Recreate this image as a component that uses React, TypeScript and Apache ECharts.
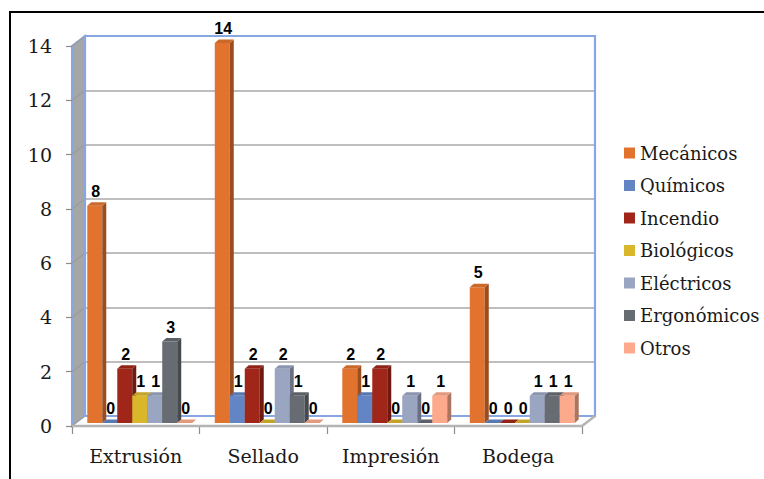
import React, { useEffect, useRef } from "react";
import * as echarts from "echarts";

const categories = ["Extrusión", "Sellado", "Impresión", "Bodega"];
const seriesNames = ["Mecánicos", "Químicos", "Incendio", "Biológicos", "Eléctricos", "Ergonómicos", "Otros"];
const mecanicos = [8, 14, 2, 5];
const quimicos = [0, 1, 1, 0];
const incendio = [2, 2, 2, 0];
const biologicos = [1, 0, 0, 0];
const electricos = [1, 2, 1, 1];
const ergonomicos = [3, 1, 0, 1];
const otros = [0, 0, 1, 1];
const seriesValues = [mecanicos, quimicos, incendio, biologicos, electricos, ergonomicos, otros];
const seriesColors = ["#e2732f", "#6385c4", "#a0261a", "#dab62a", "#9aa5c1", "#676b72", "#fcaa8b"];
const yTicks = [0, 2, 4, 6, 8, 10, 12, 14];
const Y_MAX = 14;

// layout (pixels)
const FX = 72, FTOP = 46, FBOT = 426, FW = 510; // front plane
const DX = 13, DY = -10; // depth of the box
const BLUE = "#88a7e2";
const SERIF = "'DejaVu Serif', 'Liberation Serif', serif";

function shade(hex: string, f: number) {
  const n = parseInt(hex.slice(1), 16);
  const r = Math.min(255, Math.round(((n >> 16) & 255) * f));
  const g = Math.min(255, Math.round(((n >> 8) & 255) * f));
  const b = Math.min(255, Math.round((n & 255) * f));
  return `rgb(${r},${g},${b})`;
}

export default function App() {
  const ref = useRef<HTMLDivElement>(null);
  useEffect(() => {
    if (!ref.current) return;
    const chart = echarts.init(ref.current, null, { renderer: "svg" });
    const nS = seriesNames.length;
    const series = seriesNames.map((name, si) => ({
      name,
      type: "custom",
      xAxisIndex: 0,
      yAxisIndex: 0,
      itemStyle: { color: seriesColors[si] },
      z: 2,
      data: categories.map((c, ci) => [ci, seriesValues[si][ci]]),
      encode: { x: 0, y: 1 },
      renderItem: (params: any, api: any) => {
        const ci = api.value(0);
        const v = api.value(1);
        const base = api.coord([ci, 0]);
        const top = api.coord([ci, v]);
        const band = api.size([1, 0])[0];
        const bw = band * 0.1176;
        const ox = 4, oy = -3; // bar plane offset
        const ddx = 4, ddy = -3.5; // bar depth
        const x0 = base[0] - (bw * nS) / 2 + si * bw + ox;
        const yb = base[1] + oy;
        const yt = top[1] + oy;
        const col = seriesColors[si];
        const children: any[] = [];
        if (yb - yt > 0.1) {
          children.push({
            type: "rect",
            shape: { x: x0, y: yt, width: bw, height: yb - yt },
            style: { fill: col },
          });
          children.push({
            type: "polygon",
            shape: {
              points: [
                [x0 + bw, yt],
                [x0 + bw + ddx, yt + ddy],
                [x0 + bw + ddx, yb + ddy],
                [x0 + bw, yb],
              ],
            },
            style: { fill: shade(col, 0.68) },
          });
        }
        children.push({
          type: "polygon",
          shape: {
            points: [
              [x0, yt],
              [x0 + ddx, yt + ddy],
              [x0 + bw + ddx, yt + ddy],
              [x0 + bw, yt],
            ],
          },
          style: { fill: shade(col, 0.9) },
        });
        children.push({
          type: "text",
          style: {
            text: String(v),
            x: x0 + bw / 2 + 1,
            y: yt + ddy - 3,
            align: "center",
            verticalAlign: "bottom",
            fill: "#000",
            font: "bold 16px 'Liberation Sans', Arial, sans-serif",
          },
        });
        return { type: "group", children };
      },
    }));

    const unit = (FBOT - FTOP) / Y_MAX;
    const slantLines = yTicks.map((t) => ({
      type: "line",
      z: 0,
      shape: { x1: FX, y1: FBOT - t * unit, x2: FX + DX, y2: FBOT - t * unit + DY },
      style: { stroke: "#9a9a9a", lineWidth: 1.2 },
    }));

    const option: any = {
      animation: false,
      color: seriesColors,
      grid: [
        { left: FX, top: FTOP, width: FW, height: FBOT - FTOP },
        { left: FX + DX, top: FTOP + DY, width: FW, height: FBOT - FTOP },
      ],
      xAxis: [
        {
          type: "category",
          gridIndex: 0,
          data: categories,
          axisLine: { show: false },
          axisTick: { show: true, length: 8, lineStyle: { color: "#8c8c8c", width: 1.2 } },
          axisLabel: { margin: 20, fontFamily: SERIF, fontSize: 19, color: "#1a1a1a" },
          splitLine: { show: false },
        },
        { type: "category", gridIndex: 1, data: categories, show: false },
      ],
      yAxis: [
        {
          type: "value",
          gridIndex: 0,
          min: 0,
          max: Y_MAX,
          interval: 2,
          axisLine: { show: false },
          axisTick: { show: true, length: 6, lineStyle: { color: "#8c8c8c", width: 1.2 } },
          axisLabel: { margin: 20, fontFamily: SERIF, fontSize: 19, color: "#1a1a1a" },
          splitLine: { show: false },
        },
        {
          type: "value",
          gridIndex: 1,
          min: 0,
          max: Y_MAX,
          interval: 2,
          axisLine: { show: false },
          axisTick: { show: false },
          axisLabel: { show: false },
          splitLine: { show: true, lineStyle: { color: "#a8a8a8", width: 1.6 } },
        },
      ],
      legend: {
        orient: "vertical",
        left: 619,
        top: 138,
        itemWidth: 11,
        itemHeight: 11,
        itemGap: 12.5,
        icon: "rect",
        data: seriesNames,
        textStyle: { fontFamily: SERIF, fontSize: 18, lineHeight: 20, color: "#1a1a1a" },
      },
      graphic: {
        elements: [
          // back wall fill
          {
            type: "rect",
            z: -2,
            shape: { x: FX + DX, y: FTOP + DY, width: FW, height: FBOT - FTOP },
            style: { fill: "#fff" },
          },
          // left wall
          {
            type: "polygon",
            z: -1,
            shape: {
              points: [
                [FX, FTOP],
                [FX + DX, FTOP + DY],
                [FX + DX, FBOT + DY],
                [FX, FBOT],
              ],
            },
            style: { fill: "#a6a6a6", stroke: BLUE, lineWidth: 2 },
          },
          // floor
          {
            type: "polygon",
            z: -1,
            shape: {
              points: [
                [FX, FBOT],
                [FX + DX, FBOT + DY],
                [FX + DX + FW, FBOT + DY],
                [FX + FW, FBOT],
              ],
            },
            style: { fill: "#fff" },
          },
          ...slantLines,
          // back wall border
          {
            type: "rect",
            z: 1,
            shape: { x: FX + DX, y: FTOP + DY, width: FW, height: FBOT - FTOP },
            style: { fill: "none", stroke: BLUE, lineWidth: 2.2 },
          },
          // floor front edges
          {
            type: "polyline",
            z: 1,
            shape: {
              points: [
                [FX, FBOT],
                [FX + FW, FBOT],
                [FX + FW + DX, FBOT + DY],
              ],
            },
            style: { stroke: "#b4b4b4", lineWidth: 2.5, fill: "none" },
          },
          // outer frame
          {
            type: "rect",
            z: 10,
            shape: { x: 10, y: 12, width: 800, height: 520 },
            style: { fill: "none", stroke: "#000", lineWidth: 2 },
          },
        ],
      },
      series,
    };
    chart.setOption(option);
    return () => chart.dispose();
  }, []);
  return (
    <div
      ref={ref}
      style={{ position: "fixed", left: 0, top: 0, width: 764, height: 479, background: "#fff" }}
    />
  );
}
